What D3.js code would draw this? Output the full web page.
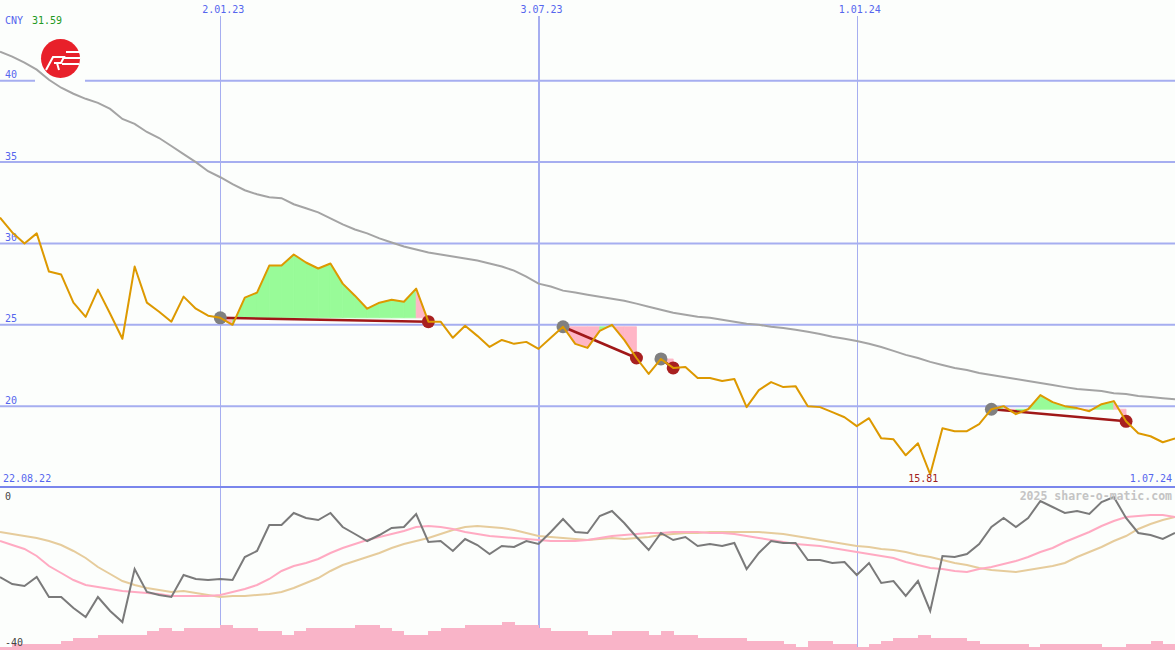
<!DOCTYPE html>
<html><head><meta charset="utf-8">
<script src="https://cdn.jsdelivr.net/npm/d3@7"></script>
<style>body{margin:0;background:#fcfefc;} svg{display:block}</style>
</head><body><svg id="c" width="1175" height="650"></svg>
<script>
// ---------- DATA ----------
const startWeek = new Date(2022, 7, 29);
const endWeek = new Date(2024, 6, 1);
const weeks = d3.timeMonday.range(startWeek, d3.timeDay.offset(endWeek, 1));

const price = [
 31.59, 30.68, 30.00, 30.62, 28.27, 28.09, 26.36, 25.49, 27.16, 25.68,
 24.14, 28.58, 26.36, 25.80, 25.19, 26.73, 25.99, 25.56, 25.43, 25.00,
 26.67, 26.98, 28.64, 28.64, 29.32, 28.83, 28.46, 28.77, 27.53, 26.79,
 25.99, 26.36, 26.54, 26.42, 27.22, 25.19, 25.19, 24.20, 24.94, 24.32,
 23.64, 24.07, 23.83, 23.95, 23.52, 24.20, 24.88, 23.83, 23.58, 24.63,
 25.00, 24.07, 22.96, 21.98, 22.90, 22.35, 22.41, 21.73, 21.73, 21.54,
 21.67, 19.94, 20.99, 21.48, 21.17, 21.23, 20.00, 19.94, 19.63, 19.32,
 18.77, 19.26, 18.02, 17.96, 16.98, 17.72, 15.81, 18.64, 18.46, 18.46,
 18.89, 19.81, 20.00, 19.51, 19.81, 20.68, 20.25, 20.00, 19.88, 19.69,
 20.12, 20.31, 19.07, 18.33, 18.15, 17.78, 18.02];

const movingAvg = [
 41.79, 41.48, 41.11, 40.68, 40.06, 39.57, 39.20, 38.89, 38.64, 38.27,
 37.65, 37.35, 36.85, 36.48, 35.99, 35.49, 35.00, 34.44, 34.07, 33.64,
 33.27, 33.02, 32.84, 32.78, 32.41, 32.16, 31.91, 31.54, 31.17, 30.86,
 30.62, 30.31, 30.06, 29.81, 29.63, 29.44, 29.32, 29.20, 29.07, 28.95,
 28.77, 28.58, 28.33, 27.96, 27.53, 27.35, 27.10, 26.98, 26.85, 26.73,
 26.60, 26.48, 26.30, 26.11, 25.93, 25.74, 25.62, 25.49, 25.43, 25.31,
 25.19, 25.06, 25.00, 24.88, 24.81, 24.69, 24.57, 24.44, 24.26, 24.14,
 24.01, 23.83, 23.64, 23.40, 23.15, 22.96, 22.72, 22.53, 22.35, 22.22,
 22.04, 21.91, 21.79, 21.67, 21.54, 21.42, 21.30, 21.17, 21.05, 20.99,
 20.93, 20.80, 20.74, 20.62, 20.56, 20.49, 20.43];

const oscillator = [
 -22.25, -24, -24.5, -22.25, -27.25, -27.25, -30, -32.25, -27.25, -30.75,
 -33.5, -20.25, -26, -26.75, -27.25, -21.75, -22.75, -23, -22.75, -23,
 -17.25, -15.75, -9.25, -9.25, -6.25, -7.5, -8, -6.25, -9.75, -11.5,
 -13.25, -11.75, -10, -9.75, -6.5, -13.5, -13.25, -15.75, -12.75, -14.25,
 -16.5, -14.5, -14.75, -13.25, -14, -11, -7.75, -11, -11.25, -7,
 -5.75, -8.75, -12.25, -15.5, -11.25, -13, -12.25, -14.5, -14, -14.5,
 -13.75, -20.25, -16.25, -13.25, -13.75, -13.75, -18, -18, -18.75, -18.5,
 -21.75, -18.75, -23.75, -23.25, -27, -23.25, -30.75, -17, -17.25, -16.5,
 -14, -9.75, -7.5, -9.75, -7.5, -3.25, -4.75, -6.25, -5.75, -6.5,
 -3.5, -2.25, -7.5, -11.25, -11.75, -12.75, -11.25];

const oscFast = [
 -13.25, -14.25, -15.25, -17, -19.5, -21.25, -23, -24.25, -24.75, -25.25,
 -25.75, -26, -26.25, -26.5, -27, -27, -27, -27, -26.75, -26,
 -25.25, -24.25, -22.75, -20.75, -19.5, -18.75, -17.75, -16.25, -15, -14,
 -13, -12.25, -11.5, -10.75, -9.75, -9.5, -9.75, -10.25, -11, -11.5,
 -12, -12.25, -12.5, -12.75, -13, -13.25, -13.25, -13.25, -13, -12.5,
 -12, -11.75, -11.5, -11.25, -11.25, -11, -11, -11, -11.25, -11.25,
 -11.5, -12, -12.5, -13, -13.5, -14, -14.25, -14.5, -15, -15.5,
 -16, -16.5, -17, -17.5, -18.5, -19.25, -20, -20.25, -20.75, -21,
 -20.25, -19.75, -19, -18.25, -17.25, -16, -15, -13.5, -12.25, -11,
 -9.5, -8.25, -7.25, -7, -6.75, -6.75, -7.25];

const oscSlow = [
 -11, -11.5, -12, -12.5, -13.25, -14.25, -15.75, -17.5, -19.75, -21.5,
 -23.25, -24.25, -25, -25.5, -26, -25.75, -26.25, -26.75, -27.25, -27,
 -27, -26.75, -26.5, -26, -25, -23.75, -22.5, -20.75, -19.25, -18.25,
 -17.25, -16.25, -15, -14, -13.25, -12.5, -11.5, -10.5, -9.75, -9.5,
 -9.75, -10, -10.5, -11.25, -12, -12.25, -12.5, -12.75, -13, -12.75,
 -12.5, -12.75, -12.5, -12.25, -11.75, -11.5, -11.25, -11.25, -11, -11,
 -11, -11, -11, -11.25, -11.5, -12, -12.5, -13, -13.5, -14,
 -14.5, -14.75, -15.25, -15.5, -16, -16.75, -17.25, -18, -18.75, -19.25,
 -20, -20.5, -20.75, -21, -20.5, -20, -19.5, -18.75, -17.25, -16,
 -14.75, -13.25, -12, -10.25, -9, -8, -7.25];

const histogram = [
 1, 2, 2, 2, 2, 3, 4, 4, 5, 5,
 5, 5, 6, 7, 6, 7, 7, 7, 8, 7,
 7, 6, 6, 5, 6, 7, 7, 7, 7, 8,
 8, 7, 6, 5, 5, 6, 7, 7, 8, 8,
 8, 9, 8, 8, 7, 6, 6, 6, 5, 5,
 6, 6, 6, 5, 6, 5, 5, 4, 4, 4,
 4, 3, 3, 3, 2, 1, 3, 3, 2, 2,
 1, 2, 3, 4, 4, 5, 4, 4, 4, 3,
 2, 2, 2, 2, 1, 2, 2, 2, 2, 2,
 1, 1, 2, 2, 3, 2];

const signalStart = [18, 46, 54, 81];
const signalEnd = [35, 52, 55, 92];

const priceTicks = [40, 35, 30, 25, 20];
const dateTicks = [new Date(2023, 0, 2), new Date(2023, 6, 3), new Date(2024, 0, 1)];
const dateTickLabels = ["2.01.23", "3.07.23", "1.01.24"];
const currency = "CNY";
const lastLabel = "31.59";
const minLabel = "15.81";
const rangeStartLabel = "22.08.22";
const rangeEndLabel = "1.07.24";
const oscTicks = [0, -40];

// ---------- STYLE ----------
const W = 1175, H = 650;
const BLUE = "#5566ee", GRID = "#a6aef0", SEP = "#7a86ec";
const FONT = "DejaVu Sans Mono, monospace";
const dateLineWidth = [1, 2, 1];

const svg = d3.select("#c");
const x = d3.scaleTime().domain([startWeek, endWeek]).range([0, W]);
const y = d3.scaleLinear().domain([15, 45]).range([487.5, -0.6]);
const yo = d3.scaleLinear().domain([-40, 0]).range([648, 488]);
const yb = d3.scaleLinear().domain([0, 10]).range([650, 619]);

svg.append("rect").attr("width", W).attr("height", H).attr("fill", "#fcfefc");

// vertical date lines
dateTicks.forEach((d, i) => {
  const xx = Math.round(x(d)) + (dateLineWidth[i] === 1 ? 0.5 : 0);
  svg.append("line").attr("x1", xx).attr("x2", xx)
    .attr("y1", 16).attr("y2", H).attr("stroke", GRID).attr("stroke-width", dateLineWidth[i]);
  svg.append("text").attr("x", x(d) + 3).attr("y", 13).attr("text-anchor", "middle")
    .attr("font-family", FONT).attr("font-size", 10).attr("fill", BLUE).text(dateTickLabels[i]);
});

// horizontal price grid
priceTicks.forEach(v => {
  svg.append("line").attr("x1", 0).attr("x2", W).attr("y1", y(v)).attr("y2", y(v))
    .attr("stroke", GRID).attr("stroke-width", 2);
  svg.append("text").attr("x", 5).attr("y", y(v) - 2.5)
    .attr("font-family", FONT).attr("font-size", 10).attr("fill", BLUE).text(v);
});
// gap in the top gridline behind the logo
svg.append("rect").attr("x", 35).attr("y", y(40) - 3).attr("width", 50).attr("height", 6).attr("fill", "#fcfefc");

// separator
svg.append("line").attr("x1", 0).attr("x2", W).attr("y1", y(15) - 0.5).attr("y2", y(15) - 0.5)
  .attr("stroke", SEP).attr("stroke-width", 2);

// moving average
const lineP = arr => d3.line().x((d, i) => x(weeks[i])).y(d => y(d))(arr);
svg.append("path").attr("d", lineP(movingAvg)).attr("fill", "none")
  .attr("stroke", "#a4a4a4").attr("stroke-width", 2);

// signal fills
signalStart.forEach((s, k) => {
  const e = signalEnd[k];
  const base = price[s];
  for (let i = s; i < e; i++) {
    const seg = [i, i + 1];
    const area = d3.area().x(j => x(weeks[j])).y0(y(base)).y1(j => y(price[j]));
    const col = price[i + 1] >= base ? "#98fb98" : "#ffb6c6";
    svg.append("path").attr("d", area(seg))
      .attr("fill", col).attr("stroke", col).attr("stroke-width", 0.8);
  }
});
// signal lines
signalStart.forEach((s, k) => {
  const e = signalEnd[k];
  svg.append("line").attr("x1", x(weeks[s])).attr("y1", y(price[s]))
    .attr("x2", x(weeks[e])).attr("y2", y(price[e]))
    .attr("stroke", "#a01818").attr("stroke-width", 2.5);
});
signalStart.forEach((s, k) => {
  const e = signalEnd[k];
  svg.append("circle").attr("cx", x(weeks[s])).attr("cy", y(price[s])).attr("r", 6.5).attr("fill", "#808080");
  svg.append("circle").attr("cx", x(weeks[e])).attr("cy", y(price[e])).attr("r", 6.5).attr("fill", "#a82020");
});

// price line
svg.append("path").attr("d", lineP(price)).attr("fill", "none")
  .attr("stroke", "#dd9900").attr("stroke-width", 2).attr("stroke-linejoin", "round");

// lower panel
svg.append("g").selectAll("rect").data(histogram).join("rect")
  .attr("x", (d, i) => x(weeks[i])).attr("width", (d, i) => x(weeks[i + 1]) - x(weeks[i]) + 0.5)
  .attr("y", d => yb(d)).attr("height", d => yb(0) - yb(d))
  .attr("fill", "#f9b4c8").attr("shape-rendering", "crispEdges");

const lineO = arr => d3.line().x((d, i) => x(weeks[i])).y(d => yo(d))(arr);
svg.append("path").attr("d", lineO(oscSlow)).attr("fill", "none").attr("stroke", "#e6cc9c").attr("stroke-width", 2);
svg.append("path").attr("d", lineO(oscFast)).attr("fill", "none").attr("stroke", "#ffaac2").attr("stroke-width", 2);
svg.append("path").attr("d", lineO(oscillator)).attr("fill", "none").attr("stroke", "#7a7a7a").attr("stroke-width", 2);

oscTicks.forEach((v, i) => {
  svg.append("text").attr("x", 5).attr("y", i === 0 ? yo(v) + 12 : yo(v) - 2)
    .attr("font-family", FONT).attr("font-size", 10).attr("fill", "#444").text(v);
});

// texts
svg.append("text").attr("x", 5).attr("y", 24).attr("font-family", FONT).attr("font-size", 10)
  .attr("fill", BLUE).text(currency);
svg.append("text").attr("x", 32).attr("y", 24).attr("font-family", FONT).attr("font-size", 10)
  .attr("fill", "#229922").text(lastLabel);
svg.append("text").attr("x", 3).attr("y", 482).attr("font-family", FONT).attr("font-size", 10)
  .attr("fill", BLUE).text(rangeStartLabel);
svg.append("text").attr("x", 1172).attr("y", 482).attr("text-anchor", "end").attr("font-family", FONT)
  .attr("font-size", 10).attr("fill", BLUE).text(rangeEndLabel);
const minIdx = price.indexOf(d3.min(price));
svg.append("text").attr("x", x(weeks[minIdx]) - 7).attr("y", 482).attr("text-anchor", "middle")
  .attr("font-family", FONT).attr("font-size", 10).attr("fill", "#a02020").text(minLabel);
svg.append("text").attr("x", 1172).attr("y", 500).attr("text-anchor", "end").attr("font-family", FONT)
  .attr("font-size", 11.5).attr("font-weight", "bold").attr("fill", "#c4c4c4").text("2025 share-o-matic.com");

// logo
const logo = svg.append("g");
logo.append("circle").attr("cx", 60.5).attr("cy", 58.5).attr("r", 19.5).attr("fill", "#e8202a");
logo.append("path").attr("d", "M46,70 L53,57 L64,57 L61,63 L54,63 M57,63 L59,70 M66,52 L80,52 M64,58 L80,58 M62,64 L79,64")
  .attr("fill", "none").attr("stroke", "#fff").attr("stroke-width", 2);
</script>
</body></html>
